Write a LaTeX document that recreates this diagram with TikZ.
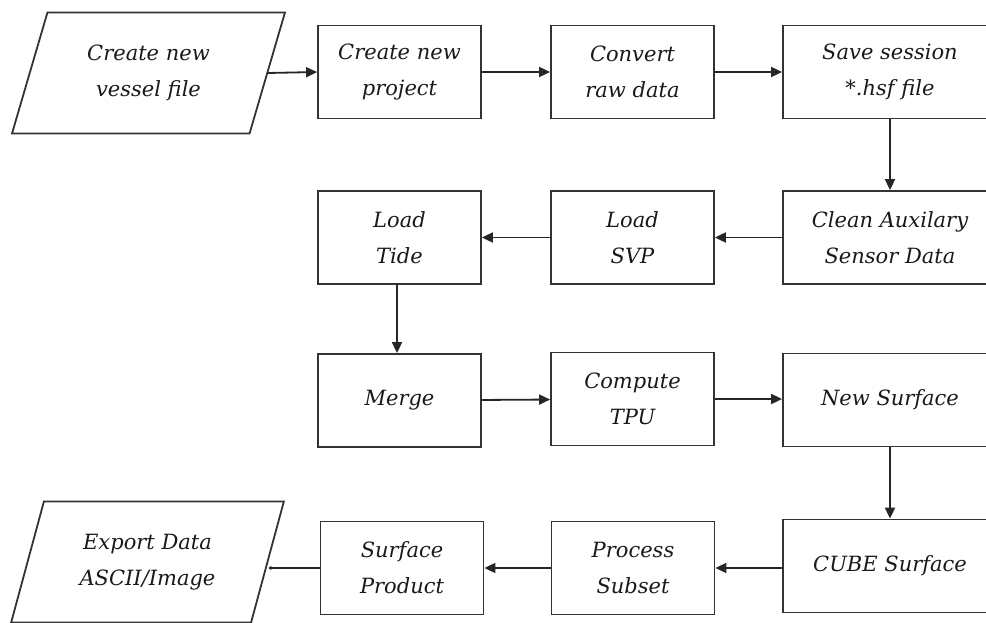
\documentclass[tikz,border=0pt]{standalone}
\usepackage{fontspec}
\setmainfont{DejaVu Serif}
\usetikzlibrary{arrows.meta,shapes.geometric}
\begin{document}
\begin{tikzpicture}[x=1pt,y=-1pt,
  every node/.style={font=\fontsize{21}{36}\selectfont\itshape, text=black!90, align=center},
  box/.style={draw=black!80, line width=1.8pt, minimum width=163pt, minimum height=93pt, inner sep=2pt},
  wbox/.style={box, minimum width=214pt},
  io/.style={draw=black!80, line width=1.8pt, trapezium, trapezium left angle=69, trapezium right angle=111,
    trapezium stretches=true, minimum width=273pt, minimum height=121pt, inner sep=0pt},
  flow/.style={draw=black!85, line width=1.8pt, -{Triangle[length=11pt,width=10pt]}},
  smallflow/.style={draw=black!85, line width=1.8pt, -{Triangle[length=3pt,width=4pt]}}
]
\useasboundingbox (0,0) rectangle (986,623);
\clip (0,0) rectangle (986,623);
% row 1
\node[io]   (vessel)  at (148.5,73)  {Create new\\vessel file};
\node[box]  (project) at (399.5,72)  {Create new\\project};
\node[box]  (convert) at (632.5,72)  {Convert\\raw data};
\node[wbox] (save)    at (890,72)    {Save session\\*.hsf file};
% row 2
\node[box]  (tide)    at (399.5,237.5) {Load\\Tide};
\node[box]  (svp)     at (632.5,237.5) {Load\\SVP};
\node[wbox] (clean)   at (890,237.5)   {Clean Auxilary\\Sensor Data};
% row 3
\node[box]  (merge)   at (399.5,400.5) {Merge};
\node[box]  (tpu)     at (632.5,399)   {Compute\\TPU};
\node[wbox] (newsurf) at (890,400)     {New Surface};
% row 4
\node[box]  (product) at (402,568)   {Surface\\Product};
\node[box]  (subset)  at (633,568)   {Process\\Subset};
\node[wbox] (cube)    at (890,566)   {CUBE Surface};
\node[io]   (export)  at (147.5,562) {Export Data\\ASCII/Image};
% connectors
\draw[flow] (vessel.east) -- (project.west);
\draw[flow] (project) -- (convert);
\draw[flow] (convert) -- (save);
\draw[flow] (save) -- (clean);
\draw[flow] (clean.west |- svp) -- (svp.east);
\draw[flow] (svp) -- (tide);
\draw[flow] (tide.south -| 397,0) -- (merge.north -| 397,0);
\draw[flow] (merge) -- (tpu);
\draw[flow] (tpu) -- (newsurf.west |- tpu);
\draw[flow] (newsurf) -- (cube);
\draw[flow] (cube.west |- subset) -- (subset.east);
\draw[flow] (subset) -- (product);
\draw[smallflow] (product.west) -- (export.east |- product.west);
\end{tikzpicture}
\end{document}
